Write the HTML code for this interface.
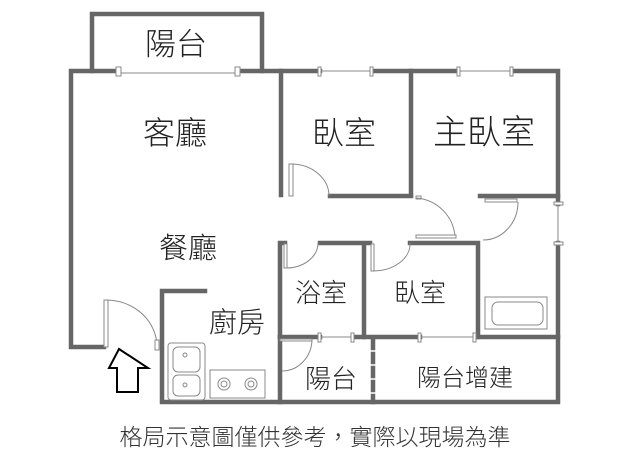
<!DOCTYPE html><html><head><meta charset="utf-8"><style>
body{margin:0;background:#fff;width:640px;height:461px;overflow:hidden;font-family:"Liberation Sans","Noto Sans CJK TC",sans-serif}
svg text{font-family:"Liberation Sans","Noto Sans CJK TC",sans-serif;fill:#222;text-anchor:middle;font-weight:300}
</style></head><body>
<svg width="640" height="461" viewBox="0 0 640 461">
<g stroke="#666" stroke-width="4.5" fill="none" stroke-linecap="square">
<path d="M92 71V14H262V71"/>
<path d="M104 347H71V71H119M237 71H320M372 71H458M512 71H558V204M558 243V402H162V291H205"/>
<path d="M281 71V195M411 71V195"/>
<path d="M330 196H411M480 196H558"/>
<path d="M280 337V243H285M320 243H370M410 243H478V337M364 243V337"/>
<path d="M280 337H320M353 337H420M475 337H558"/>
<path d="M280 337V402"/>
<path d="M373 340V402" stroke-dasharray="8 6"/>
</g>
<g stroke="#888" stroke-width="1" fill="#fff">
<line x1="119" y1="73" x2="237" y2="73"/><line x1="320" y1="71" x2="372" y2="71"/><line x1="458" y1="71" x2="512" y2="71"/>
<line x1="558" y1="204" x2="558" y2="243"/><line x1="320" y1="337" x2="353" y2="337"/><line x1="420" y1="337" x2="475" y2="337"/>
<rect x="116" y="67" width="5" height="9"/><rect x="235" y="67" width="5" height="9"/>
<rect x="318" y="67" width="3" height="9"/><rect x="370" y="67" width="3" height="9"/>
<rect x="457" y="67" width="3" height="9"/><rect x="510" y="67" width="3" height="9"/>
<rect x="554" y="202" width="9" height="3"/><rect x="554" y="242" width="9" height="3"/>
<rect x="318" y="333" width="3" height="9"/><rect x="351" y="333" width="3" height="9"/>
<rect x="418" y="333" width="3" height="9"/><rect x="473" y="333" width="3" height="9"/>
<rect x="104" y="300" width="4" height="47"/><path d="M106 300A51 47 0 0 1 157 347" fill="none"/><rect x="155" y="340" width="4" height="10"/>
<rect x="289" y="164" width="4" height="32"/><path d="M291 164A38 32 0 0 1 329 196" fill="none"/>
<rect x="416" y="196" width="5" height="3"/><path d="M416 198A42 42 0 0 1 455 236" fill="none"/><rect x="416" y="235" width="40" height="3"/>
<rect x="485" y="199" width="32" height="3"/><path d="M518 202A35 38 0 0 1 483 240" fill="none"/>
<rect x="284" y="244" width="3" height="24"/><path d="M286 268A32 25 0 0 0 318 243" fill="none"/>
<rect x="371" y="244" width="3" height="27"/><path d="M373 271A37 27 0 0 0 410 243" fill="none"/>
<path d="M282 371A30 32 0 0 0 312 339" fill="none"/><rect x="280" y="339" width="32" height="2"/>
<rect x="168" y="343" width="37" height="57" rx="3"/><rect x="173" y="347" width="27" height="25" rx="5"/><rect x="173" y="375" width="27" height="21" rx="5"/>
<circle cx="185" cy="355" r="2"/><circle cx="185" cy="385" r="2"/>
<rect x="210" y="370" width="55" height="28"/>
<circle cx="224" cy="384" r="6"/><circle cx="224" cy="384" r="3"/><circle cx="251" cy="384" r="6"/><circle cx="251" cy="384" r="3"/>
<rect x="485" y="297" width="62" height="32"/><rect x="492" y="302" width="51" height="23" rx="6"/>
</g>
<path d="M119 349L109 368H117V392H138V368H148Z" fill="#fff" stroke="#000" stroke-width="2"/>
<text x="176" y="55" font-size="31">陽台</text>
<text x="175" y="144" font-size="32">客廳</text>
<text x="344" y="144" font-size="32">臥室</text>
<text x="484" y="144" font-size="34">主臥室</text>
<text x="188" y="258" font-size="29">餐廳</text>
<text x="321" y="302" font-size="26">浴室</text>
<text x="420" y="302" font-size="26">臥室</text>
<text x="237" y="332" font-size="28">廚房</text>
<text x="331" y="388" font-size="26">陽台</text>
<text x="465" y="386" font-size="24">陽台增建</text>
<text x="315" y="445" font-size="23" style="fill:#333">格局示意圖僅供參考，實際以現場為準</text>
</svg></body></html>
